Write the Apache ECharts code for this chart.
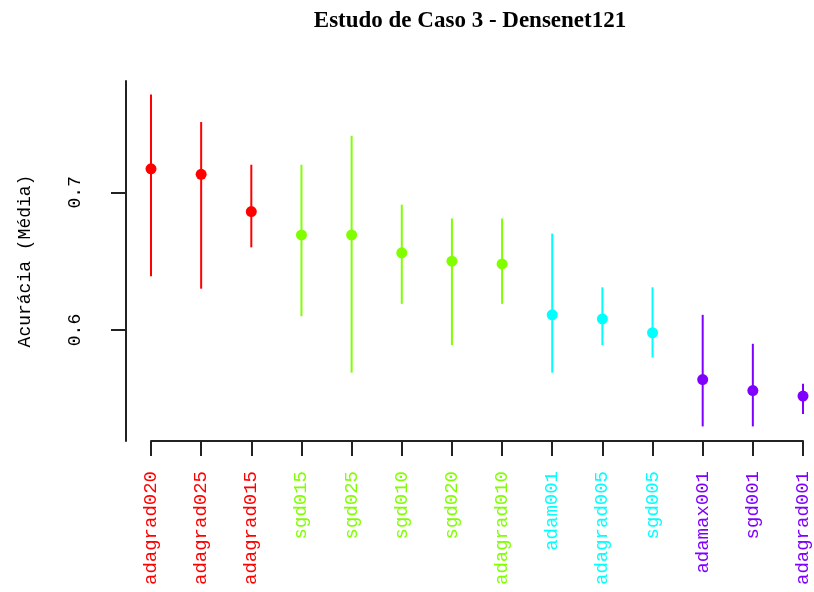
<!DOCTYPE html>
<html>
<head>
<meta charset="utf-8">
<script src="https://cdn.jsdelivr.net/npm/echarts@6/dist/echarts.min.js"></script>
<style>html,body{margin:0;padding:0;background:#fff}#c{width:814px;height:592px}</style>
</head>
<body>
<div id="c"></div>
<script>
const categories = ['adagrad020','adagrad025','adagrad015','sgd015','sgd025','sgd010','sgd020','adagrad010','adam001','adagrad005','sgd005','adamax001','sgd001','adagrad001'];
const means = [0.717, 0.713, 0.686, 0.669, 0.669, 0.656, 0.650, 0.648, 0.611, 0.608, 0.598, 0.564, 0.556, 0.552];
const lows  = [0.639, 0.630, 0.660, 0.610, 0.569, 0.619, 0.589, 0.619, 0.569, 0.589, 0.580, 0.530, 0.530, 0.539];
const highs = [0.771, 0.751, 0.720, 0.720, 0.741, 0.691, 0.681, 0.681, 0.670, 0.631, 0.631, 0.611, 0.590, 0.561];
const groups = [0,0,0,1,1,1,1,1,2,2,2,3,3,3];
const yTicks = [0.6, 0.7];
const palette = ['#FF0000','#80FF00','#00FFFF','#8000FF'];
const titleText = 'Estudo de Caso 3 - Densenet121';
const yName = 'Acurácia (Média)';

const colorOf = i => palette[groups[i]];
const chart = echarts.init(document.getElementById('c'), null, {renderer:'canvas'});
chart.setOption({
  backgroundColor:'#fff',
  animation:false,
  title:{text:titleText,left:465,top:5,textAlign:'center',
    textStyle:{fontFamily:'Liberation Serif',fontWeight:'bold',fontSize:23,color:'#000'}},
  grid:{left:151,right:11,top:81,bottom:151,containLabel:false},
  xAxis:{type:'category',data:categories,boundaryGap:false,
    axisLine:{lineStyle:{color:'#222',width:2}},
    axisTick:{length:15,lineStyle:{color:'#222',width:2},interval:0},
    axisLabel:{interval:0,rotate:90,margin:30,fontFamily:'Liberation Mono',fontSize:19,
      color:(v,i)=>colorOf(i)},
    splitLine:{show:false}},
  yAxis:{type:'value',min:0.5194,max:0.7808,offset:25,
    name:yName,nameLocation:'middle',nameRotate:90,nameGap:92,
    nameTextStyle:{fontFamily:'Liberation Mono',fontSize:18,color:'#000'},
    axisLine:{show:true,lineStyle:{color:'#222',width:2}},
    axisTick:{show:true,length:15,customValues:yTicks,lineStyle:{color:'#222',width:2}},
    axisLabel:{customValues:yTicks,rotate:90,margin:42,fontFamily:'Liberation Mono',fontSize:18,color:'#000',
      formatter:v=>v.toFixed(1)},
    splitLine:{show:false}},
  series:[
    {type:'custom',
     data:categories.map((c,i)=>[i,lows[i],highs[i]]),
     renderItem:(params,api)=>{
       const i=api.value(0);
       const p1=api.coord([i,api.value(1)]);
       const p2=api.coord([i,api.value(2)]);
       return {type:'line',shape:{x1:p1[0],y1:p1[1],x2:p2[0],y2:p2[1]},
         style:{stroke:colorOf(i),lineWidth:2}};
     },z:2},
    {type:'scatter',symbol:'circle',symbolSize:11,
     data:categories.map((c,i)=>({value:[i,means[i]],itemStyle:{color:colorOf(i),opacity:1}})),z:3}
  ]
});
</script>
</body>
</html>
